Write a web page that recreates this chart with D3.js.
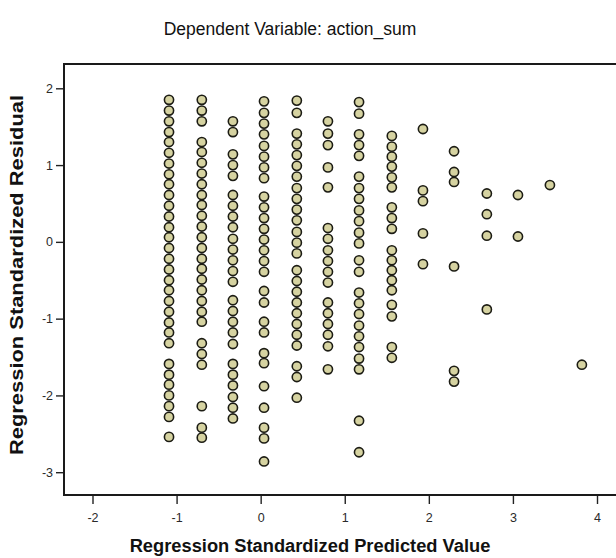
<!DOCTYPE html>
<html lang="en">
<head>
<meta charset="UTF-8">
<title>Residual scatter</title>
<script src="https://d3js.org/d3.v7.min.js"></script>
<style>
  body { margin: 0; background: #fff; font-family: "Liberation Sans", Arial, sans-serif; }
  svg { display: block; }
</style>
</head>
<body>
<div id="chart"></div>
<script>
// ticks
const xTicks = [-2, -1, 0, 1, 2, 3, 4];
const yTicks = [-3, -2, -1, 0, 1, 2];

// standardized predicted value of each column of points
const columnX = [-1.09, -0.70, -0.33, 0.04, 0.43, 0.80, 1.17, 1.56, 1.93, 2.30, 2.69, 3.06, 3.44, 3.82];

// standardized residuals in each column
const columnResiduals = [
  [1.85, 1.71, 1.57, 1.43, 1.30, 1.16, 1.02, 0.88, 0.75, 0.61, 0.47, 0.33, 0.19, 0.06, -0.08, -0.22, -0.36, -0.50, -0.63, -0.77, -0.91, -1.05, -1.18, -1.32, -1.59, -1.73, -1.86, -2.00, -2.14, -2.28, -2.54],
  [1.85, 1.71, 1.57, 1.30, 1.17, 1.03, 0.89, 0.75, 0.61, 0.48, 0.34, 0.20, 0.06, -0.08, -0.22, -0.35, -0.49, -0.63, -0.77, -0.91, -1.04, -1.32, -1.46, -1.60, -2.14, -2.42, -2.55],
  [1.57, 1.43, 1.14, 1.00, 0.86, 0.61, 0.47, 0.33, 0.19, 0.04, -0.10, -0.24, -0.38, -0.52, -0.76, -0.90, -1.04, -1.18, -1.33, -1.59, -1.73, -1.87, -2.02, -2.16, -2.30],
  [1.83, 1.68, 1.54, 1.40, 1.25, 1.11, 0.97, 0.83, 0.59, 0.45, 0.31, 0.17, 0.03, -0.11, -0.25, -0.39, -0.64, -0.79, -1.04, -1.18, -1.45, -1.58, -1.88, -2.16, -2.42, -2.56, -2.86],
  [1.84, 1.68, 1.41, 1.27, 1.13, 0.99, 0.85, 0.70, 0.56, 0.42, 0.28, 0.13, -0.01, -0.15, -0.37, -0.51, -0.65, -0.79, -0.93, -1.07, -1.21, -1.35, -1.62, -1.76, -2.03],
  [1.57, 1.41, 1.26, 0.97, 0.71, 0.18, 0.04, -0.11, -0.25, -0.39, -0.53, -0.79, -0.93, -1.07, -1.21, -1.36, -1.66],
  [1.82, 1.67, 1.40, 1.26, 1.12, 0.85, 0.70, 0.56, 0.41, 0.27, 0.12, -0.02, -0.24, -0.39, -0.66, -0.80, -0.94, -1.09, -1.23, -1.37, -1.52, -1.66, -2.33, -2.74],
  [1.38, 1.24, 1.11, 0.98, 0.84, 0.71, 0.45, 0.31, 0.17, -0.11, -0.24, -0.37, -0.50, -0.63, -0.82, -0.97, -1.37, -1.51],
  [1.47, 0.67, 0.53, 0.11, -0.29],
  [1.18, 0.91, 0.78, -0.32, -1.68, -1.82],
  [0.63, 0.36, 0.08, -0.88],
  [0.61, 0.07],
  [0.74],
  [-1.60]
];

const width = 616, height = 558;
const frame = { left: 64, top: 64, right: 640, bottom: 495 };

const svg = d3.select('#chart').append('svg')
  .attr('width', width)
  .attr('height', height);

const x = d3.scaleLinear().domain([-2, 4]).range([92.5, 597]);
const y = d3.scaleLinear().domain([-3, 2]).range([472.2, 88.3]);

// title
svg.append('text')
  .attr('x', 290)
  .attr('y', 35)
  .attr('text-anchor', 'middle')
  .style('font-size', '17.5px')
  .style('fill', '#111')
  .text('Dependent Variable: action_sum');

// axes (plain hyphen for negatives, like the original)
const fmt = d => String(d);
const xAxis = svg.append('g')
  .attr('transform', `translate(0,${frame.bottom})`)
  .call(d3.axisBottom(x).tickValues(xTicks).tickSize(9).tickPadding(9).tickFormat(fmt));
const yAxis = svg.append('g')
  .attr('transform', `translate(${frame.left},0)`)
  .call(d3.axisLeft(y).tickValues(yTicks).tickSize(8).tickPadding(3).tickFormat(fmt));

[xAxis, yAxis].forEach(g => {
  g.select('.domain').remove();
  g.selectAll('.tick line').attr('stroke', '#222').attr('stroke-width', 1.4);
  g.selectAll('.tick text')
    .style('font-family', '"Liberation Sans", Arial, sans-serif')
    .style('font-size', '12.5px')
    .style('fill', '#2a2a2a');
});

// frame
svg.append('rect')
  .attr('x', frame.left)
  .attr('y', frame.top)
  .attr('width', frame.right - frame.left)
  .attr('height', frame.bottom - frame.top)
  .attr('fill', 'none')
  .attr('stroke', '#1a1a1a')
  .attr('stroke-width', 2);

// points
const points = [];
columnResiduals.forEach((col, i) => {
  col.forEach(r => points.push({ pred: columnX[i], res: r }));
});

svg.append('g')
  .selectAll('circle')
  .data(points)
  .enter()
  .append('circle')
  .attr('cx', d => x(d.pred))
  .attr('cy', d => y(d.res))
  .attr('r', 4.6)
  .attr('fill', '#d6d3a1')
  .attr('stroke', '#1c1c14')
  .attr('stroke-width', 1.6);

// axis titles
svg.append('text')
  .attr('x', 310)
  .attr('y', 552)
  .attr('text-anchor', 'middle')
  .style('font-size', '18.3px')
  .style('font-weight', 'bold')
  .style('fill', '#111')
  .text('Regression Standardized Predicted Value');

svg.append('text')
  .attr('transform', 'translate(23,275) rotate(-90)')
  .attr('text-anchor', 'middle')
  .attr('textLength', 360)
  .attr('lengthAdjust', 'spacingAndGlyphs')
  .style('font-size', '18px')
  .style('font-weight', 'bold')
  .style('fill', '#111')
  .text('Regression Standardized Residual');
</script>
</body>
</html>
